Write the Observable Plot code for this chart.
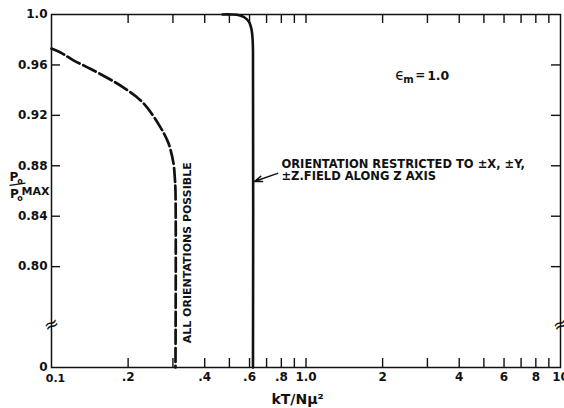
<!DOCTYPE html>
<html>
<head>
<meta charset="utf-8">
<script src="https://cdn.jsdelivr.net/npm/d3@7"></script>
<script src="https://cdn.jsdelivr.net/npm/@observablehq/plot@0.6"></script>
<style>
  html, body { margin: 0; padding: 0; background: #fff; }
</style>
</head>
<body>
<div id="chart"></div>
<script>
// ---- data ----
const xLabelVals = [0.1, 0.2, 0.4, 0.6, 0.8, 1, 2, 4, 6, 8, 10];
const xLabelText = ["0.1", ".2", ".4", ".6", ".8", "1.0", "2", "4", "6", "8", "10"];
const xMinor = [0.2, 0.3, 0.4, 0.5, 0.6, 0.7, 0.8, 0.9, 1, 2, 3, 4, 5, 6, 7, 8, 9];
const yLabelVals = [0.72, 0.80, 0.84, 0.88, 0.92, 0.96, 1.0];
const yLabelText = ["0", "0.80", "0.84", "0.88", "0.92", "0.96", "1.0"];
const yMinor = [0.80, 0.84, 0.88, 0.92, 0.96];

// "All orientations possible" (dashed)
const allX = [0.1, 0.1105, 0.122, 0.142, 0.192, 0.230, 0.268, 0.288, 0.3015, 0.305, 0.307, 0.307];
const allY = [0.973, 0.969, 0.9636, 0.957, 0.942, 0.9295, 0.9105, 0.898, 0.882, 0.871, 0.86, 0.72];
// "Orientation restricted" (solid)
const resX = [0.47, 0.51, 0.55, 0.572, 0.596, 0.611, 0.617, 0.619, 0.619];
const resY = [1.0, 1.0, 0.9993, 0.9978, 0.9945, 0.988, 0.98, 0.97, 0.72];

const W = 564, H = 408, mL = 51, mR = 4, mT = 14, mB = 41;
const xDomain = [0.1, 10], yDomain = [0.72, 1.0];

const allData = allX.map((x, i) => ({x, y: allY[i]}));
const resData = resX.map((x, i) => ({x, y: resY[i]}));
const xLabels = xLabelVals.map((x, i) => ({x, t: xLabelText[i]}));

const ypx = (H - mT - mB) / (yDomain[1] - yDomain[0]);
const decadePx = (W - mL - mR) / 2;
const tickY = 9 / ypx;
const tickXf = Math.pow(10, 9 / decadePx);

const arrowData = [{x1: 0.773, y1: 0.874, x2: 0.627, y2: 0.8675}];
const epsPos = [{x: 2.24, y: 0.9516}];
const fmtY = d => yLabelText[yLabelVals.findIndex(v => Math.abs(v - d) < 1e-9)];
const ink = "#111";

const chart = Plot.plot({
  width: W, height: H,
  marginLeft: mL, marginRight: mR, marginTop: mT, marginBottom: mB,
  style: {fontFamily: "DejaVu Sans", fontSize: "12px", fontWeight: "bold", background: "#fff", color: ink},
  x: {type: "log", domain: xDomain, axis: null},
  y: {domain: yDomain, axis: null},
  marks: [
    Plot.frame({stroke: ink, strokeWidth: 1.5}),
    // inward minor ticks
    Plot.ruleX(xMinor, {x: d => d, y1: yDomain[0], y2: yDomain[0] + tickY, stroke: ink, strokeWidth: 1.4}),
    Plot.ruleX(xMinor, {x: d => d, y1: yDomain[1], y2: yDomain[1] - tickY, stroke: ink, strokeWidth: 1.4}),
    Plot.ruleY(yMinor, {y: d => d, x1: xDomain[0], x2: xDomain[0] * tickXf, stroke: ink, strokeWidth: 1.4}),
    Plot.ruleY(yMinor, {y: d => d, x1: xDomain[1] / tickXf, x2: xDomain[1], stroke: ink, strokeWidth: 1.4}),
    // axis break marks
    Plot.text([xDomain[0], xDomain[1]], {x: d => d, y: 0.754, text: () => "≈", fontSize: 18, fontWeight: "normal", rotate: -25, fill: ink}),
    // curves
    Plot.line(allData, {x: "x", y: "y", curve: "catmull-rom", stroke: ink, strokeWidth: 2.7, strokeDasharray: "14,4"}),
    Plot.line(resData, {x: "x", y: "y", curve: "catmull-rom", stroke: ink, strokeWidth: 2.6}),
    // annotations
    Plot.text([{x: 0.342, y: 0.811}], {x: "x", y: "y", text: () => "ALL ORIENTATIONS POSSIBLE", rotate: -90, fontSize: 11, fill: ink}),
    Plot.text([{x: 0.801, y: 0.8765}], {x: "x", y: "y", text: () => "ORIENTATION RESTRICTED TO ±X, ±Y,\n±Z.FIELD ALONG Z AXIS", textAnchor: "start", fontSize: 11.5, lineHeight: 1.0, fill: ink}),
    Plot.arrow(arrowData, {x1: "x1", y1: "y1", x2: "x2", y2: "y2", stroke: ink, strokeWidth: 1.5, headLength: 9, headAngle: 40}),
    // epsilon label
    Plot.text(epsPos, {x: "x", y: "y", text: () => "ϵ", textAnchor: "start", fontSize: 15, fontWeight: "normal", fill: ink}),
    Plot.text(epsPos, {x: "x", y: "y", text: () => "m", textAnchor: "start", dx: 8, dy: 4, fontSize: 10, fill: ink}),
    Plot.text(epsPos, {x: "x", y: "y", text: () => "=", textAnchor: "start", dx: 20, fontSize: 12, fill: ink}),
    Plot.text(epsPos, {x: "x", y: "y", text: () => "1.0", textAnchor: "start", dx: 32, fontSize: 12.5, fill: ink}),
    // y axis title Po / Po MAX
    Plot.text(["P"], {frameAnchor: "top-left", text: d => d, textAnchor: "middle", lineAnchor: "middle", dx: -37.5, dy: 163, fontSize: 12, fill: ink}),
    Plot.text(["o"], {frameAnchor: "top-left", text: d => d, textAnchor: "middle", lineAnchor: "middle", dx: -31.5, dy: 167, fontSize: 8, fill: ink}),
    Plot.link([{x1: 0.0684, y1: 0.8644, x2: 0.0790, y2: 0.8662}], {x1: "x1", y1: "y1", x2: "x2", y2: "y2", stroke: ink, strokeWidth: 1.3}),
    Plot.text(["P"], {frameAnchor: "top-left", text: d => d, textAnchor: "middle", lineAnchor: "middle", dx: -37, dy: 180, fontSize: 12, fill: ink}),
    Plot.text(["o"], {frameAnchor: "top-left", text: d => d, textAnchor: "middle", lineAnchor: "middle", dx: -31.5, dy: 184, fontSize: 8, fill: ink}),
    Plot.text(["MAX"], {frameAnchor: "top-left", text: d => d, textAnchor: "middle", lineAnchor: "middle", dx: -16, dy: 177, fontSize: 11, fill: ink}),
    // x axis title
    Plot.text([{x: 0.926}], {x: "x", frameAnchor: "bottom", lineAnchor: "middle", text: () => "kT/Nμ²", dy: 32, fontSize: 14, fill: ink}),
    // tick labels
    Plot.text(xLabels.slice(1), {x: "x", text: "t", frameAnchor: "bottom", lineAnchor: "middle", dy: 10, fontSize: 12, fill: ink}),
    Plot.text(xLabels.slice(0, 1), {x: "x", text: "t", frameAnchor: "bottom", lineAnchor: "middle", dx: 4, dy: 11, fontSize: 11, fill: ink}),
    Plot.axisY({ticks: yLabelVals, tickSize: 0, tickPadding: 4, tickFormat: fmtY, label: null, fontSize: 12})
  ]
});
document.getElementById("chart").append(chart);
</script>
</body>
</html>
